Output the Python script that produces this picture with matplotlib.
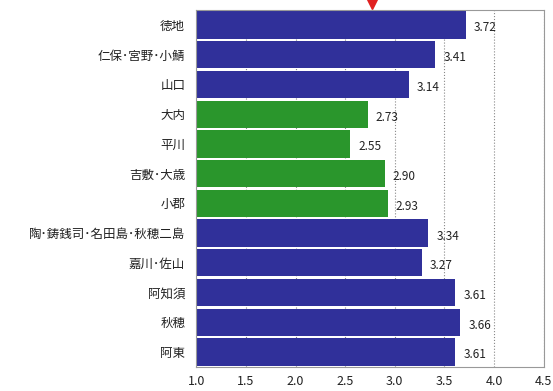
import matplotlib
matplotlib.use("Agg")
import matplotlib.pyplot as plt

plt.rcParams['font.family'] = ['Noto Sans CJK JP', 'DejaVu Sans']

# data, top to bottom as in the picture
areas = ["徳地", "仁保･宮野･小鯖", "山口", "大内", "平川", "吉敷･大歳", "小郡",
         "陶･鋳銭司･名田島･秋穂二島", "嘉川･佐山", "阿知須", "秋穂", "阿東"]
values = [3.72, 3.41, 3.14, 2.73, 2.55, 2.90, 2.93, 3.34, 3.27, 3.61, 3.66, 3.61]
groups = ["b", "b", "b", "g", "g", "g", "g", "b", "b", "b", "b", "b"]
xticks = [1.0, 1.5, 2.0, 2.5, 3.0, 3.5, 4.0, 4.5]

colors = {"b": "#30309a", "g": "#2a962c"}

fig = plt.figure(figsize=(5.53, 3.91), dpi=100)
ax = fig.add_axes([0.355, 0.062, 0.628, 0.912])

y = list(range(len(areas)))
ax.barh(y, [v - 1.0 for v in values], left=1.0, height=0.92,
        color=[colors[g] for g in groups], zorder=2)

for yi, v in zip(y, values):
    ax.text(v + 0.08, yi + 0.1, f"{v:.2f}", va="center", ha="left",
            fontsize=8.5, color="#222222", zorder=3)

ax.set_xlim(1.0, 4.5)
ax.set_ylim(len(areas) - 0.5, -0.5)
ax.set_xticks(xticks)
ax.set_xticklabels([f"{t:.1f}" for t in xticks], fontsize=9, color="#222222")
ax.set_yticks(y)
ax.set_yticklabels(areas, fontsize=9, color="#222222")
ax.tick_params(axis="y", length=0, pad=8)
ax.tick_params(axis="x", length=0, pad=6)
ax.xaxis.grid(True, linestyle=":", color="#888888", linewidth=0.8, zorder=0)
for s in ax.spines.values():
    s.set_color("#999999")
    s.set_linewidth(0.8)

# red arrow marker above the chart
ax.plot([2.77], [-0.75], marker="v", color="#e02020", markersize=8,
        clip_on=False, zorder=4)

fig.savefig("out.png", dpi=100)
